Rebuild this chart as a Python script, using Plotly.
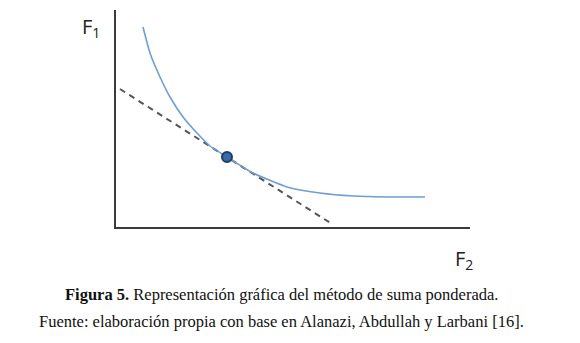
import plotly.graph_objects as go

# Pareto-like curve (x = F2, y = F1)
curve_x = [27, 34, 44, 54, 67, 81, 94, 111, 137, 171, 204, 237, 271, 309]
curve_y = [200, 174, 150, 130, 110, 94, 81, 70, 54, 40, 34, 31, 30, 30]

# tangent (weighted-sum) line
line_x = [4, 216]
line_y = [138, 3]

# optimal point
pt_x = [111]
pt_y = [70]

W, H = 580, 343
L, R, T, B = 116, 110, 10, 116
pw = W - L - R
ph = H - T - B

def px(xp):
    return (xp - L) / pw

def py(yp):
    return (H - B - yp) / ph

fig = go.Figure()
fig.add_trace(go.Scatter(x=line_x, y=line_y, mode="lines",
                         line=dict(color="#555555", width=2, dash="6px,5px"),
                         hoverinfo="skip"))
fig.add_trace(go.Scatter(x=curve_x, y=curve_y, mode="lines",
                         line=dict(color="#6e9ed3", width=1.6, shape="spline", smoothing=0.5),
                         hoverinfo="skip"))
fig.add_trace(go.Scatter(x=pt_x, y=pt_y, mode="markers",
                         marker=dict(size=10, color="#3a6aa8",
                                     line=dict(color="#1e3d66", width=2)),
                         hoverinfo="skip"))

fig.update_layout(
    width=W, height=H,
    margin=dict(l=L, r=R, t=T, b=B, pad=0),
    paper_bgcolor="white", plot_bgcolor="white",
    showlegend=False,
    xaxis=dict(range=[0, pw], showgrid=False, zeroline=False, showticklabels=False,
               ticks="", showline=True, linecolor="#3a3a3a", linewidth=2, fixedrange=True),
    yaxis=dict(range=[0, ph], showgrid=False, zeroline=False, showticklabels=False,
               ticks="", showline=True, linecolor="#3a3a3a", linewidth=2, fixedrange=True),
    font=dict(family="Liberation Serif", color="#111111"),
)

fig.add_annotation(x=px(80), y=py(11), xref="paper", yref="paper", text="F<sub>1</sub>",
                   showarrow=False, font=dict(family="Open Sans", size=20, color="#222222"))
fig.add_annotation(x=px(475), y=py(276), xref="paper", yref="paper", text="F<sub>2</sub>",
                   showarrow=False, font=dict(family="Open Sans", size=20, color="#222222"))
fig.add_annotation(x=px(281), y=py(306), xref="paper", yref="paper",
                   text="<b>Figura 5.</b> Representación gráfica del método de suma ponderada.",
                   showarrow=False, font=dict(family="Liberation Serif", size=16.5, color="#111111"))
fig.add_annotation(x=px(281), y=py(333), xref="paper", yref="paper",
                   text="Fuente: elaboración propia con base en Alanazi, Abdullah y Larbani [16].",
                   showarrow=False, font=dict(family="Liberation Serif", size=16.5, color="#111111"))

fig.write_html("out.html")
